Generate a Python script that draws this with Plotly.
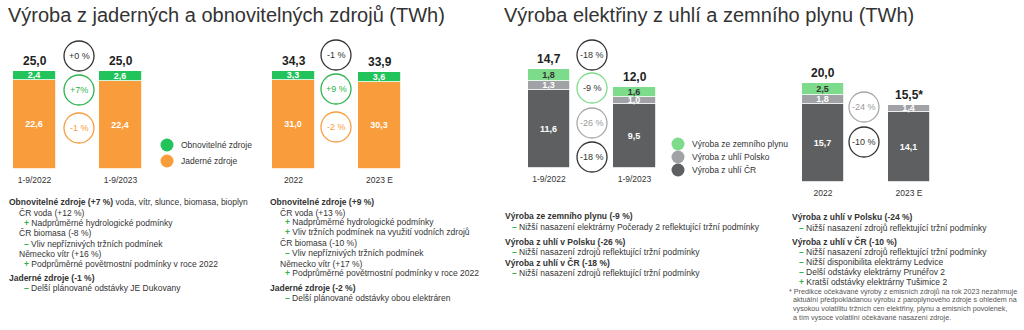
import plotly.graph_objects as go

W, H = 1024, 330
FONT = "Liberation Sans, Arial, sans-serif"


def px(x):
    return x / W


def py(y):
    return 1 - y / H


def fmt(v):
    return "" if v is None else f"{v:.1f}".replace(".", ",")


# ---------------- data ----------------
p1_cats = ["1-9/2022", "1-9/2023"]
p1_nuclear = [22.6, 22.4]
p1_renew = [2.4, 2.6]
p1_total = [25.0, 25.0]
p1_changes = ["+0 %", "+7%", "-1 %"]

p2_cats = ["2022", "2023 E"]
p2_nuclear = [31.0, 30.3]
p2_renew = [3.3, 3.6]
p2_total = [34.3, 33.9]
p2_changes = ["-1 %", "+9 %", "-2 %"]

p3_cats = ["1-9/2022", "1-9/2023"]
p3_coal_cz = [11.6, 9.5]
p3_coal_pl = [1.3, 1.0]
p3_gas = [1.8, 1.6]
p3_total = [14.7, 12.0]
p3_changes = ["-18 %", "-9 %", "-26 %", "-18 %"]

p4_cats = ["2022", "2023 E"]
p4_coal_cz = [15.7, 14.1]
p4_coal_pl = [1.8, 1.4]
p4_gas = [2.5, None]
p4_total = [20.0, 15.5]
p4_total_suffix = ["", "*"]
p4_changes = ["-24 %", "-10 %"]

legend1 = ["Obnovitelné zdroje", "Jaderné zdroje"]
legend3 = ["Výroba ze zemního plynu", "Výroba z uhlí Polsko", "Výroba z uhlí ČR"]

titles = ["Výroba z jaderných a obnovitelných zdrojů (TWh)",
          "Výroba elektřiny z uhlí a zemního plynu (TWh)"]

# colours
C_GREEN = "#22C35A"
C_ORANGE = "#F89C3C"
C_GAS = "#7DDB8C"
C_PL = "#A0A2A5"
C_CZ = "#5E5F61"
C_TEXT = "#333333"
C_SIGN = "#2DB34A"

fig = go.Figure()

# panel geometry (pixels): x domain, bottom, top of tallest bar, first bar centre, spacing, bar width
panels = [
    dict(d=(0, 250), bottom=169, top=71, c0=34.5, s=86, bw=43, ymax=max(p1_total)),
    dict(d=(250, 500), bottom=169, top=71, c0=293.5, s=86, bw=43, ymax=max(p2_total)),
    dict(d=(500, 760), bottom=168, top=69, c0=549, s=85.5, bw=42.5, ymax=max(p3_total)),
    dict(d=(760, 1024), bottom=182, top=83, c0=823, s=86, bw=42.5, ymax=max(p4_total)),
]

layout_axes = {}
for i, p in enumerate(panels, start=1):
    xa = "xaxis" if i == 1 else f"xaxis{i}"
    ya = "yaxis" if i == 1 else f"yaxis{i}"
    d0, d1 = p["d"]
    rng = [-(p["c0"] - d0) / p["s"], (d1 - p["c0"]) / p["s"]]
    layout_axes[xa] = dict(domain=[px(d0), px(d1)], range=rng, type="category",
                           anchor="y" if i == 1 else f"y{i}",
                           showgrid=False, zeroline=False, showline=False,
                           ticks="outside", ticklen=3, tickcolor="rgba(0,0,0,0)",
                           tickfont=dict(size=8.5, color=C_TEXT, family=FONT),
                           fixedrange=True)
    layout_axes[ya] = dict(domain=[py(p["bottom"]), py(p["top"])], range=[0, p["ymax"]],
                           anchor="x" if i == 1 else f"x{i}",
                           showgrid=False, zeroline=False, showline=False,
                           showticklabels=False, fixedrange=True)
    p["width"] = p["bw"] / p["s"]


def add_bar(panel_idx, cats, vals, color, txtcolor):
    p = panels[panel_idx - 1]
    fig.add_trace(go.Bar(
        x=cats, y=[0 if v is None else v for v in vals],
        text=[fmt(v) for v in vals],
        textposition="inside", insidetextanchor="middle",
        textfont=dict(size=9, color=txtcolor, family=FONT, weight="bold"),
        marker=dict(color=color, line=dict(color="white", width=0.8)),
        width=p["width"], showlegend=False,
        xaxis="x" if panel_idx == 1 else f"x{panel_idx}",
        yaxis="y" if panel_idx == 1 else f"y{panel_idx}",
        hoverinfo="skip",
    ))


add_bar(1, p1_cats, p1_nuclear, C_ORANGE, "white")
add_bar(1, p1_cats, p1_renew, C_GREEN, "white")
add_bar(2, p2_cats, p2_nuclear, C_ORANGE, "white")
add_bar(2, p2_cats, p2_renew, C_GREEN, "white")
add_bar(3, p3_cats, p3_coal_cz, C_CZ, "white")
add_bar(3, p3_cats, p3_coal_pl, C_PL, "white")
add_bar(3, p3_cats, p3_gas, C_GAS, "#333333")
add_bar(4, p4_cats, p4_coal_cz, C_CZ, "white")
add_bar(4, p4_cats, p4_coal_pl, C_PL, "white")
add_bar(4, p4_cats, p4_gas, C_GAS, "#333333")

annotations = []
shapes = []

# totals above bars (x given as category index on the category axis)
totals = [(1, p1_total, ["", ""]), (2, p2_total, ["", ""]),
          (3, p3_total, ["", ""]), (4, p4_total, p4_total_suffix)]
for idx, tots, suf in totals:
    for ci, (t, s) in enumerate(zip(tots, suf)):
        annotations.append(dict(
            x=ci, y=t, xref="x" if idx == 1 else f"x{idx}", yref="y" if idx == 1 else f"y{idx}",
            text=f"<b>{fmt(t)}{s}</b>", showarrow=False, yanchor="bottom", yshift=1,
            font=dict(size=12, color="#222222", family=FONT)))

# change circles
circles = [
    (79, [56, 90, 128], p1_changes, ["#333333", C_SIGN, C_ORANGE], ["#333333", C_SIGN, C_ORANGE]),
    (336, [55, 89, 127], p2_changes, ["#333333", C_SIGN, C_ORANGE], ["#333333", C_SIGN, C_ORANGE]),
    (592, [55, 88, 123, 157], p3_changes, ["#333333", C_GAS, "#A8A8A8", "#333333"],
     ["#333333", "#333333", "#999999", "#333333"]),
    (864, [107, 142], p4_changes, ["#A8A8A8", "#333333"], ["#999999", "#333333"]),
]
for cx, ys, labels, lcols, tcols in circles:
    for cy, lab, lc, tc in zip(ys, labels, lcols, tcols):
        shapes.append(dict(type="circle", xref="paper", yref="paper",
                           xsizemode="pixel", ysizemode="pixel",
                           xanchor=px(cx), yanchor=py(cy), x0=-15, x1=15, y0=-15, y1=15,
                           line=dict(color=lc, width=1.3), fillcolor="rgba(0,0,0,0)"))
        annotations.append(dict(x=px(cx), y=py(cy), xref="paper", yref="paper",
                                text=lab, showarrow=False, xanchor="center", yanchor="middle",
                                font=dict(size=9, color=tc, family=FONT)))

# legends (drawn)
leg_items = [
    (167, [145, 161], legend1, [C_GREEN, C_ORANGE], 179, 6.5),
    (678, [144, 157, 170], legend3, [C_GAS, C_PL, C_CZ], 690, 6.5),
]
for cx, ys, labels, cols, tx, r in leg_items:
    for cy, lab, col in zip(ys, labels, cols):
        shapes.append(dict(type="circle", xref="paper", yref="paper",
                           xsizemode="pixel", ysizemode="pixel",
                           xanchor=px(cx), yanchor=py(cy), x0=-r, x1=r, y0=-r, y1=r,
                           line=dict(width=0), fillcolor=col))
        annotations.append(dict(x=px(tx), y=py(cy), xref="paper", yref="paper",
                                text=lab, showarrow=False, xanchor="left", yanchor="middle",
                                font=dict(size=8.5, color=C_TEXT, family=FONT)))

# titles
for x, t in zip([6, 502], titles):
    annotations.append(dict(x=px(x), y=py(15), xref="paper", yref="paper", text=t,
                            showarrow=False, xanchor="left", yanchor="middle",
                            font=dict(size=20, color="#333333", family=FONT)))

PLUS = f'<span style="color:{C_SIGN}"><b>+</b></span>'
MINUS = f'<span style="color:{C_SIGN}"><b>–</b></span>'

# commentary text: (x, y, text)
notes = [
    # panel 1
    (7, 202, "<b>Obnovitelné zdroje (+7 %)</b> voda, vítr, slunce, biomasa, bioplyn"),
    (17, 213, "ČR voda (+12 %)"),
    (22, 223, f"{PLUS} Nadprůměrné hydrologické podmínky"),
    (17, 233, "ČR biomasa (-8 %)"),
    (22, 244, f"{MINUS} Vliv nepříznivých tržních podmínek"),
    (17, 254, "Německo vítr (+16 %)"),
    (22, 264, f"{PLUS} Podprůměrné povětrnostní podmínky v roce 2022"),
    (7, 278, "<b>Jaderné zdroje (-1 %)</b>"),
    (22, 288, f"{MINUS} Delší plánované odstávky JE Dukovany"),
    # panel 2
    (268, 202, "<b>Obnovitelné zdroje (+9 %)</b>"),
    (278, 213, "ČR voda (+13 %)"),
    (283, 222, f"{PLUS} Nadprůměrné hydrologické podmínky"),
    (283, 232, f"{PLUS} Vliv tržních podmínek na využití vodních zdrojů"),
    (278, 243, "ČR biomasa (-10 %)"),
    (283, 253, f"{MINUS} Vliv nepříznivých tržních podmínek"),
    (278, 264, "Německo vítr (+17 %)"),
    (283, 273, f"{PLUS} Podprůměrné povětrnostní podmínky v roce 2022"),
    (268, 288, "<b>Jaderné zdroje (-2 %)</b>"),
    (283, 298, f"{MINUS} Delší plánované odstávky obou elektráren"),
    # panel 3
    (503, 216, "<b>Výroba ze zemního plynu (-9 %)</b>"),
    (510, 227, f"{MINUS} Nižší nasazení elektrárny Počerady 2 reflektující tržní podmínky"),
    (503, 242, "<b>Výroba z uhlí v Polsku (-26 %)</b>"),
    (510, 252, f"{MINUS} Nižší nasazení zdrojů reflektující tržní podmínky"),
    (503, 262, "<b>Výroba z uhlí v ČR (-18 %)</b>"),
    (510, 273, f"{MINUS} Nižší nasazení zdrojů reflektující tržní podmínky"),
    # panel 4
    (790, 217, "<b>Výroba z uhlí v Polsku (-24 %)</b>"),
    (797, 228, f"{MINUS} Nižší nasazení zdrojů reflektující tržní podmínky"),
    (790, 242, "<b>Výroba z uhlí v ČR (-10 %)</b>"),
    (797, 252, f"{MINUS} Nižší nasazení zdrojů reflektující tržní podmínky"),
    (797, 262, f"{MINUS} Nižší disponibilita elektrárny Ledvice"),
    (797, 272, f"{MINUS} Delší odstávky elektrárny Prunéřov 2"),
    (797, 282, f"{PLUS} Kratší odstávky elektrárny Tušimice 2"),
]
for x, y, t in notes:
    annotations.append(dict(x=px(x), y=py(y), xref="paper", yref="paper", text=t,
                            showarrow=False, xanchor="left", yanchor="middle",
                            font=dict(size=8.5, color=C_TEXT, family=FONT)))

footnote = [
    "* Predikce očekávané výroby z emisních zdrojů na rok 2023 nezahrnuje",
    "aktuální předpokládanou výrobu z paroplynového zdroje s ohledem na",
    "vysokou volatilitu tržních cen elektřiny, plynu a emisních povolenek,",
    "a tím vysoce volatilní očekávané nasazení zdroje.",
]
for i, (y, t) in enumerate(zip([291, 299, 308, 317], footnote)):
    annotations.append(dict(x=px(787 if i == 0 else 791), y=py(y), xref="paper", yref="paper",
                            text=t, showarrow=False, xanchor="left", yanchor="middle",
                            font=dict(size=7.2, color="#555555", family=FONT)))

fig.update_layout(
    width=W, height=H, margin=dict(l=0, r=0, t=0, b=0),
    paper_bgcolor="white", plot_bgcolor="white",
    barmode="stack", bargap=0,
    uniformtext=dict(minsize=9, mode="show"),
    font=dict(family=FONT, color=C_TEXT),
    annotations=annotations, shapes=shapes,
    showlegend=False,
    **layout_axes,
)

fig.write_html("out.html")
